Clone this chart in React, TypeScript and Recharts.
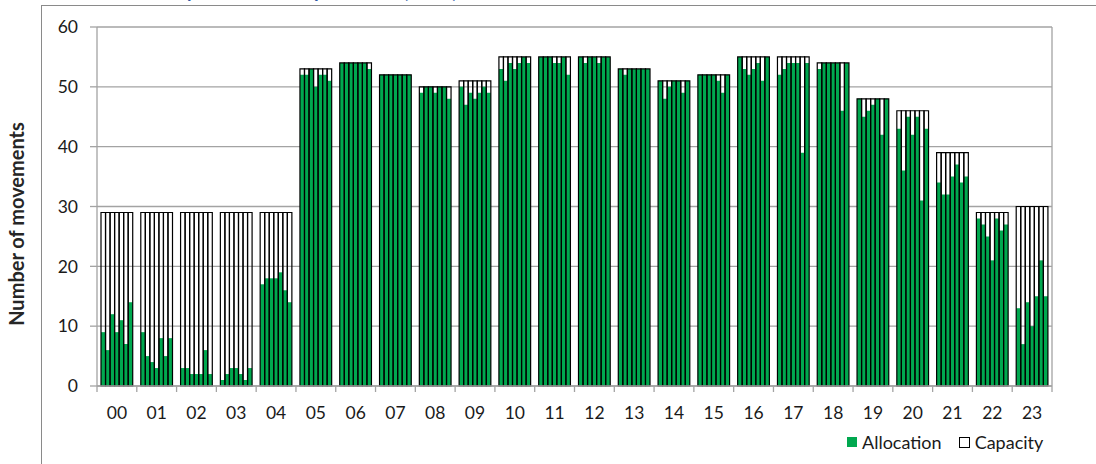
import { BarChart, Bar, XAxis, YAxis, CartesianGrid } from 'recharts';

const hours = ['00', '01', '02', '03', '04', '05', '06', '07', '08', '09', '10', '11', '12', '13', '14', '15', '16', '17', '18', '19', '20', '21', '22', '23'];

// same capacity for every day of the week in an hour
const capacity = [29, 29, 29, 29, 29, 53, 54, 52, 50, 51, 55, 55, 55, 53, 51, 52, 55, 55, 54, 48, 46, 39, 29, 30];

// allocation per hour, one value per day (7 days)
const allocByHour = [
  [9, 6, 12, 9, 11, 7, 14],
  [9, 5, 4, 3, 8, 5, 8],
  [3, 3, 2, 2, 2, 6, 2],
  [1, 2, 3, 3, 2, 1, 3],
  [17, 18, 18, 18, 19, 16, 14],
  [52, 52, 53, 50, 52, 52, 51],
  [54, 54, 54, 54, 54, 54, 53],
  [52, 52, 52, 52, 52, 52, 52],
  [49, 50, 50, 49, 50, 50, 48],
  [50, 47, 49, 48, 49, 50, 49],
  [53, 51, 54, 53, 54, 55, 54],
  [55, 55, 55, 54, 54, 55, 52],
  [55, 54, 55, 55, 54, 55, 55],
  [53, 52, 53, 53, 53, 53, 53],
  [51, 48, 50, 51, 51, 49, 51],
  [52, 52, 52, 52, 51, 49, 52],
  [55, 53, 52, 53, 54, 51, 55],
  [52, 53, 54, 54, 54, 39, 54],
  [53, 54, 54, 54, 54, 46, 54],
  [48, 45, 46, 47, 48, 42, 48],
  [43, 36, 45, 42, 45, 31, 43],
  [34, 32, 32, 35, 37, 34, 35],
  [28, 27, 25, 21, 28, 26, 27],
  [13, 7, 14, 10, 15, 21, 15],
];

const yTicks = [0, 10, 20, 30, 40, 50, 60];
const days = [0, 1, 2, 3, 4, 5, 6];

const GREEN = '#00A84F';
const GRID = '#a3a3a3';
const FONT = 'Lato, "Open Sans", sans-serif';

const data = hours.map((hour, i) => {
  const row: Record<string, string | number> = { hour };
  days.forEach((d) => {
    row[`a${d}`] = allocByHour[i][d];
    row[`c${d}`] = capacity[i];
  });
  return row;
});

const W = 1096;
const H = 464;
const LEFT_AXIS = 97;
const RIGHT_AXIS = 44;
const BAND = (W - LEFT_AXIS - RIGHT_AXIS) / hours.length;

function HourTick(props: any) {
  const { x, y, payload, index } = props;
  const left = x - BAND / 2;
  return (
    <g>
      <line x1={left} y1={y} x2={left} y2={y + 6} stroke={GRID} strokeWidth={1.3} />
      {index === hours.length - 1 && (
        <line x1={x + BAND / 2} y1={y} x2={x + BAND / 2} y2={y + 6} stroke={GRID} strokeWidth={1.3} />
      )}
      <text x={x} y={y + 33} textAnchor="middle" fill="#1a1a1a" fontSize={17.5} fontFamily={FONT}>
        {payload.value}
      </text>
    </g>
  );
}

export default function App() {
  return (
    <div style={{ position: 'absolute', left: 0, top: 0, width: W, height: H, overflow: 'hidden', background: '#fff', fontFamily: FONT }}>
      <div
        style={{
          position: 'absolute',
          left: 41,
          top: 5,
          width: W,
          height: H,
          borderLeft: '1.5px solid #8a8a8a',
          borderTop: '1.5px solid #8a8a8a',
        }}
      />
      <div
        style={{
          position: 'absolute',
          left: 138,
          top: -21,
          fontSize: 19,
          lineHeight: 'normal',
          fontWeight: 700,
          color: '#2E59A6',
          whiteSpace: 'nowrap',
        }}
      >
        Hourly allocation vs. peak hour (2019)
      </div>
      <div
        style={{
          position: 'absolute',
          left: 16,
          top: 224,
          transform: 'translate(-50%, -50%) rotate(-90deg)',
          fontSize: 20,
          fontWeight: 700,
          color: '#262626',
          whiteSpace: 'nowrap',
        }}
      >
        Number of movements
      </div>
      <div style={{ position: 'absolute', left: 0, top: 0 }}>
        <BarChart
          width={W}
          height={H}
          data={data}
          margin={{ top: 27, right: 0, bottom: 0, left: 0 }}
          barGap={0}
          barCategoryGap={0}
        >
          <CartesianGrid xAxisId="cap" yAxisId="left" vertical={false} stroke={GRID} strokeWidth={1.3} />
          <XAxis
            xAxisId="cap"
            dataKey="hour"
            height={78}
            axisLine={{ stroke: GRID, strokeWidth: 1.3 }}
            tickLine={false}
            tickSize={0}
            tickMargin={0}
            interval={0}
            tick={<HourTick />}
          />
          <XAxis xAxisId="alloc" dataKey="hour" hide height={0} />
          <YAxis
            yAxisId="left"
            width={LEFT_AXIS}
            domain={[0, 60]}
            ticks={yTicks}
            tickSize={7}
            tickMargin={12}
            axisLine={{ stroke: GRID, strokeWidth: 1.3 }}
            tickLine={{ stroke: GRID, strokeWidth: 1.3 }}
            tick={{ fill: '#1a1a1a', fontSize: 17.5, fontFamily: FONT }}
          />
          <YAxis
            yAxisId="right"
            orientation="right"
            width={RIGHT_AXIS}
            domain={[0, 60]}
            ticks={yTicks}
            tickSize={7}
            tickMargin={12}
            axisLine={{ stroke: GRID, strokeWidth: 1.3 }}
            tickLine={{ stroke: GRID, strokeWidth: 1.3 }}
            tick={{ fill: '#1a1a1a', fontSize: 17.5, fontFamily: FONT, textAnchor: 'start' }}
          />
          {days.map((d) => (
            <Bar
              key={`a${d}`}
              xAxisId="alloc"
              yAxisId="left"
              dataKey={`a${d}`}
              name="Allocation"
              fill={GREEN}
              barSize={4.53}
              isAnimationActive={false}
            />
          ))}
          {days.map((d) => (
            <Bar
              key={`c${d}`}
              xAxisId="cap"
              yAxisId="left"
              dataKey={`c${d}`}
              name="Capacity"
              fill="none"
              stroke="#000"
              strokeWidth={1.2}
              barSize={4.53}
              isAnimationActive={false}
            />
          ))}
        </BarChart>
      </div>
      <div
        style={{
          position: 'absolute',
          left: 847,
          top: 431,
          display: 'flex',
          alignItems: 'center',
          fontSize: 18,
          color: '#1a1a1a',
          whiteSpace: 'nowrap',
        }}
      >
        <span style={{ width: 10, height: 10, background: GREEN, display: 'inline-block', marginRight: 5 }} />
        <span style={{ marginRight: 17 }}>Allocation</span>
        <span style={{ width: 9, height: 9, border: '1px solid #000', background: '#fff', display: 'inline-block', marginRight: 5 }} />
        <span>Capacity</span>
      </div>
    </div>
  );
}
